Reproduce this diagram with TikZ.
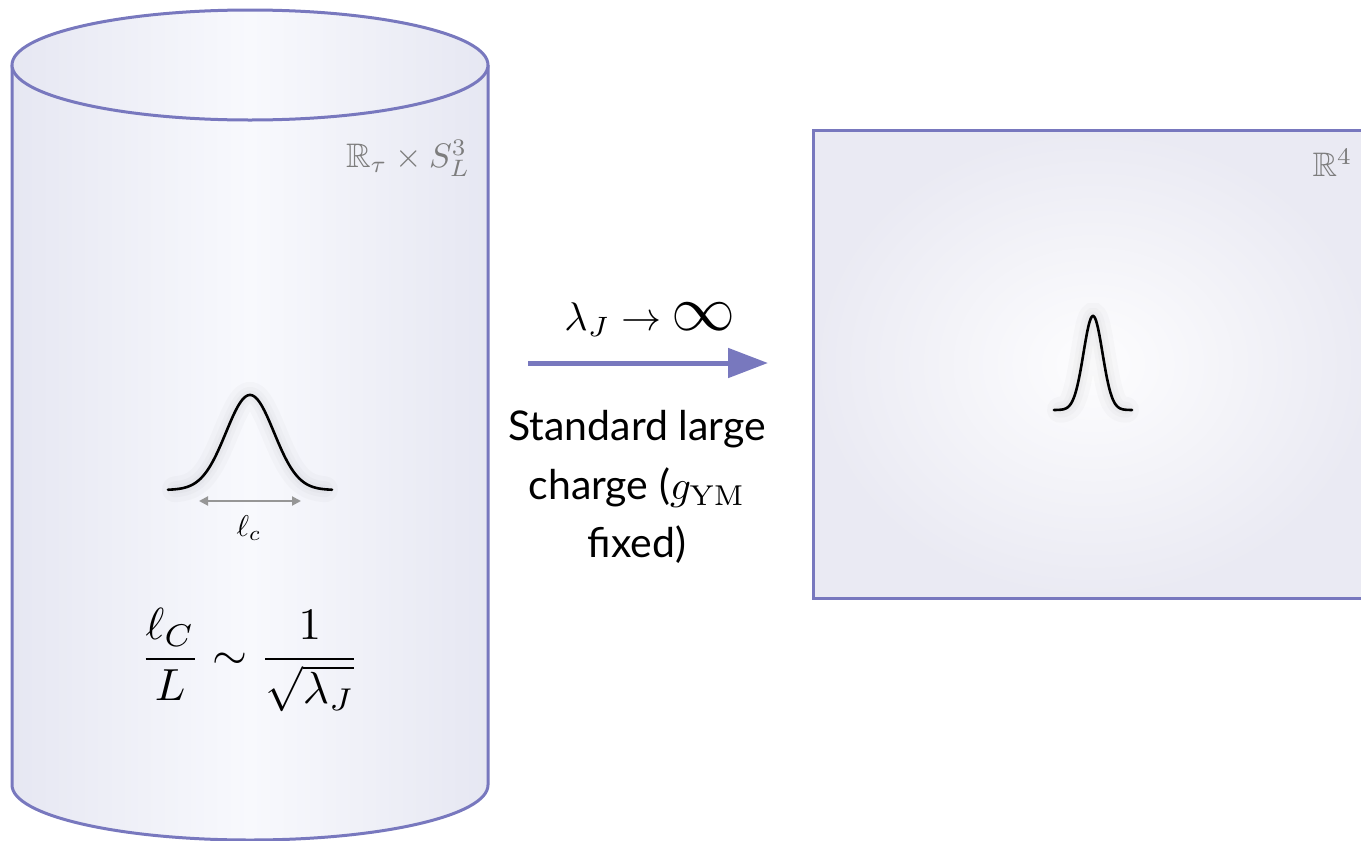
\documentclass[tikz,border=0pt]{standalone}
\usepackage{amsmath,amssymb}
\usepackage{graphicx}
\usepackage[no-math]{fontspec}
\setmainfont{Lato}
\usetikzlibrary{arrows.meta}
\definecolor{cyl}{RGB}{120,120,190}
\definecolor{cylside}{RGB}{230,231,242}
\definecolor{cylmid}{RGB}{248,249,253}
\definecolor{rinner}{RGB}{253,253,254}
\definecolor{router}{RGB}{234,234,243}
\definecolor{lbl}{RGB}{125,125,125}
\definecolor{dimgray}{RGB}{150,150,150}
\tikzset{
  outline/.style={draw=cyl, line width=3pt},
  curve/.style={line width=2.6pt, black, line cap=round},
  glow/.style={line width=#1, black!60, opacity=0.03, line cap=round},
  mathlbl/.style={inner sep=0pt, text=lbl, scale=3.4},
}
\begin{document}
\begin{tikzpicture}[x=1pt,y=-1pt]
\useasboundingbox (0,0) rectangle (1361,841);
% cylinder body
\path[left color=cylside, right color=cylside, middle color=cylmid]
  (12,65) -- (12,785) arc[start angle=180,end angle=360,x radius=238pt,y radius=55pt]
  -- (488,65) arc[start angle=0,end angle=-180,x radius=238pt,y radius=55pt] -- cycle;
\draw[outline, line join=round]
  (12,65) -- (12,785) arc[start angle=180,end angle=360,x radius=238pt,y radius=55pt]
  -- (488,65);
\path[left color=cylside, right color=cylside, middle color=cylmid]
  (250,65) ellipse [x radius=238pt, y radius=55pt];
\draw[outline] (250,65) ellipse [x radius=238pt, y radius=55pt];
% rectangle
\path[shading=radial, inner color=rinner, outer color=router] (813,130) rectangle (1373,598);
\draw[outline] (813,130) rectangle (1373,598);
% labels
\node[mathlbl, anchor=north east] (lblA) at (471,139) {$\mathbb{R}_\tau\times S^3_L$};
\node[mathlbl, anchor=north east] (lblB) at (1353,148) {$\mathbb{R}^4$};
% left gaussian
\foreach \w in {26,16,9}
  \draw[glow=\w pt] plot[domain=175:325, samples=80] (\x, {490-95*exp(-((\x-250)^2)/(2*24^2))});
\draw[curve] plot[domain=168:332, samples=120] (\x, {490-95*exp(-((\x-250)^2)/(2*24^2))});
\coordinate (dl) at (199,501);
\coordinate (dr) at (301,501);
\draw[dimgray, line width=2pt, {Triangle[length=9pt,width=9pt]}-{Triangle[length=9pt,width=9pt]}] (dl) -- (dr);
\node[scale=3, inner sep=0pt] (lc) at (249,528) {$\ell_c$};
% formula
\node[scale=4.5, inner sep=0pt] (form) at (250,660) {$\displaystyle\frac{\ell_C}{L}\sim\frac{1}{\sqrt{\lambda_J}}$};
% right gaussian
\foreach \w in {26,16,9}
  \draw[glow=\w pt] plot[domain=1060:1126, samples=80] (\x, {410-94*exp(-((\x-1093)^2)/(2*9.5^2))});
\draw[curve] plot[domain=1054:1132, samples=120] (\x, {410-94*exp(-((\x-1093)^2)/(2*9.5^2))});
% arrow
\coordinate (as) at (528,363);
\coordinate (ae) at (768,363);
\draw[cyl, line width=5pt, -{Triangle[length=40pt,width=29pt]}] (as) -- (ae);
\node[scale=4, inner sep=0pt] (lim) at (650,320) {$\lambda_J\to$ \scalebox{1.6}{$\infty$}};
\node[scale=4.1, inner sep=0pt, align=center, font=\fontsize{10}{14.3}\selectfont] (desc) at (637,487)
  {Standard large\\charge ($g_{\mathrm{YM}}$\\fixed)};
\end{tikzpicture}
\end{document}
